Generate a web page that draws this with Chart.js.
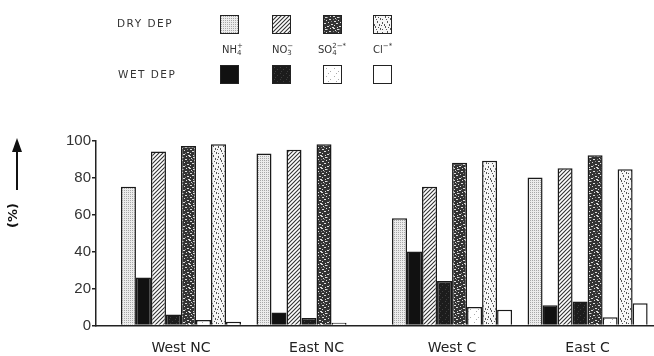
<!DOCTYPE html>
<html>
<head>
<meta charset="utf-8">
<script src="https://cdn.jsdelivr.net/npm/chart.js@4/dist/chart.umd.min.js"></script>
<style>
  body { margin: 0; background: #fff; }
  #wrap { position: relative; width: 654px; height: 356px; }
  #legend { position: absolute; left: 0; top: 0; width: 654px; height: 100px; font-family: "DejaVu Sans", sans-serif; color: #333; }
  .rowlab { position: absolute; font-size: 10.5px; letter-spacing: 1.5px; }
  .box { position: absolute; width: 17px; height: 17px; border: 1.5px solid #222; }
  .ion { position: absolute; font-size: 10px; top: 43px; }
  .ion .st { display: inline-block; vertical-align: middle; line-height: 7px; font-size: 7px; text-align: left; }
  #ytitle { position: absolute; left: 8px; top: 200px; width: 18px; height: 34px; }
  #ytitle span { position: absolute; left: -8px; top: 8px; transform: rotate(-90deg); font: bold 13px "DejaVu Sans", sans-serif; color: #111; }
  #arrow { position: absolute; left: 16px; top: 150px; width: 2px; height: 40px; background: #111; }
  #arrowhead { position: absolute; left: 12px; top: 138px; width: 0; height: 0; border-left: 5px solid transparent; border-right: 5px solid transparent; border-bottom: 14px solid #111; }
</style>
</head>
<body>
<div id="wrap">
  <canvas id="chart"></canvas>
  <div id="legend">
    <div class="rowlab" style="left:117px; top:17px;">DRY DEP</div>
    <div class="rowlab" style="left:118px; top:68px;">WET DEP</div>
    <div class="ion" style="left:222px;">NH<span class="st">+<br>4</span></div>
    <div class="ion" style="left:272px;">NO<span class="st">&minus;<br>3</span></div>
    <div class="ion" style="left:318px;">SO<span class="st">2&minus;*<br>4</span></div>
    <div class="ion" style="left:373px;">Cl<span class="st">&minus;*<br>&nbsp;</span></div>
  </div>
  <div id="arrowhead"></div>
  <div id="arrow"></div>
  <div id="ytitle"><span>(%)</span></div>
</div>
<script>
// ion fractions, % of total deposition
const groups = ['West NC', 'East NC', 'West C', 'East C'];
const nh4Dry = [75, 93, 58, 80];
const nh4Wet = [26, 7, 40, 11];
const no3Dry = [94, 95, 75, 85];
const no3Wet = [6, 4, 24, 13];
const so4Dry = [97, 98, 88, 92];
const so4Wet = [3, 1.5, 10, 4.5];
const clDry = [98, null, 89, 84.5];
const clWet = [2, null, 8.5, 12];
const yTicks = [0, 20, 40, 60, 80, 100];

function makePattern(size, draw) {
    const c = document.createElement('canvas');
    c.width = size; c.height = size;
    const g = c.getContext('2d');
    draw(g, size);
    return c;
}

function dots(g, list, w, h) {
    list.forEach(p => g.fillRect(p[0], p[1], w || 1, h || 1));
}

// little tiles that stand in for the printed screen tones
const tiles = {
    nh4Dry: makePattern(2, (g) => {
        g.fillStyle = '#ececec'; g.fillRect(0, 0, 2, 2);
        g.fillStyle = '#a8a8a8'; g.fillRect(0, 0, 1, 1);
    }),
    no3Dry: makePattern(4, (g) => {
        g.fillStyle = '#fff'; g.fillRect(0, 0, 4, 4);
        g.strokeStyle = '#333'; g.lineWidth = 1.1;
        g.beginPath();
        g.moveTo(-1, 5); g.lineTo(5, -1);
        g.moveTo(-1, 1); g.lineTo(1, -1);
        g.moveTo(3, 5); g.lineTo(5, 3);
        g.stroke();
    }),
    so4Dry: makePattern(12, (g) => {
        g.fillStyle = '#333'; g.fillRect(0, 0, 12, 12);
        g.fillStyle = '#ddd';
        dots(g, [[1,1],[9,0],[5,3],[0,7],[7,8],[3,10],[10,5],[8,11]], 2, 1);
        dots(g, [[4,6],[2,4],[11,2],[6,0],[1,11],[10,9]]);
        g.fillStyle = '#888';
        dots(g, [[3,1],[7,5],[5,9],[0,3],[9,3]]);
    }),
    clDry: makePattern(10, (g) => {
        g.fillStyle = '#f6f6f6'; g.fillRect(0, 0, 10, 10);
        g.fillStyle = '#555';
        dots(g, [[1,0],[6,2],[3,5],[8,6],[0,8],[5,8]], 1, 2);
        dots(g, [[4,1],[8,3],[2,3],[7,9]]);
    }),
    no3Wet: makePattern(6, (g) => {
        g.fillStyle = '#1c1c1c'; g.fillRect(0, 0, 6, 6);
        g.fillStyle = '#3c3c3c'; dots(g, [[1,1],[4,3],[2,5]]);
    }),
    so4Wet: makePattern(8, (g) => {
        g.fillStyle = '#fff'; g.fillRect(0, 0, 8, 8);
        g.fillStyle = '#aaa'; dots(g, [[2,2],[6,5],[4,7]]);
    })
};

const ctx = document.getElementById('chart').getContext('2d');
const fills = {
    nh4Dry: ctx.createPattern(tiles.nh4Dry, 'repeat'),
    nh4Wet: '#111',
    no3Dry: ctx.createPattern(tiles.no3Dry, 'repeat'),
    no3Wet: ctx.createPattern(tiles.no3Wet, 'repeat'),
    so4Dry: ctx.createPattern(tiles.so4Dry, 'repeat'),
    so4Wet: ctx.createPattern(tiles.so4Wet, 'repeat'),
    clDry: ctx.createPattern(tiles.clDry, 'repeat'),
    clWet: '#fff'
};

// legend swatches: same tiles
const legendBoxes = [
    ['nh4Dry', 220, 15], ['no3Dry', 272, 15], ['so4Dry', 323, 15], ['clDry', 373, 15],
    ['nh4Wet', 220, 65], ['no3Wet', 272, 65], ['so4Wet', 323, 65], ['clWet', 373, 65]
];
const legendEl = document.getElementById('legend');
legendBoxes.forEach(b => {
    const d = document.createElement('div');
    d.className = 'box';
    d.style.left = b[1] + 'px';
    d.style.top = b[2] + 'px';
    const t = tiles[b[0]];
    if (t) d.style.background = 'url(' + t.toDataURL() + ')';
    else d.style.background = fills[b[0]];
    legendEl.appendChild(d);
});

function series(arr) {
    return arr.map((v, i) => ({ x: i, y: v }));
}

function ds(label, arr, key) {
    return {
        label: label,
        data: series(arr),
        backgroundColor: fills[key],
        borderColor: '#1a1a1a',
        borderWidth: 1.5,
        borderSkipped: 'bottom'
    };
}

new Chart(ctx, {
    type: 'bar',
    data: {
        datasets: [
            ds('NH4+ dry', nh4Dry, 'nh4Dry'),
            ds('NH4+ wet', nh4Wet, 'nh4Wet'),
            ds('NO3- dry', no3Dry, 'no3Dry'),
            ds('NO3- wet', no3Wet, 'no3Wet'),
            ds('SO4 2- dry', so4Dry, 'so4Dry'),
            ds('SO4 2- wet', so4Wet, 'so4Wet'),
            ds('Cl- dry', clDry, 'clDry'),
            ds('Cl- wet', clWet, 'clWet')
        ]
    },
    options: {
        responsive: true,
        maintainAspectRatio: false,
        animation: false,
        categoryPercentage: 0.886,
        barPercentage: 1,
        layout: { padding: { top: 140.5, left: 0, right: 0, bottom: 0 } },
        plugins: { legend: { display: false }, tooltip: { enabled: false } },
        scales: {
            x: {
                type: 'linear',
                offset: false,
                min: -0.627,
                max: 3.49,
                afterBuildTicks: (s) => { s.ticks = groups.map((g, i) => ({ value: i })); },
                afterFit: (s) => { s.height = 30.5; },
                grid: { display: true, drawOnChartArea: false, drawTicks: false, offset: false },
                border: { display: true, color: '#222', width: 1.5 },
                ticks: {
                    padding: 14,
                    color: '#222',
                    font: { family: 'DejaVu Sans', size: 14 },
                    callback: (v) => groups[v]
                }
            },
            y: {
                min: 0,
                max: 100,
                afterBuildTicks: (s) => { s.ticks = yTicks.map(v => ({ value: v })); },
                afterFit: (s) => { s.width = 96; },
                grid: { drawOnChartArea: false, drawTicks: true, tickLength: 4, color: '#222', lineWidth: 1.5 },
                border: { display: true, color: '#222', width: 1.5 },
                ticks: {
                    padding: 1,
                    color: '#333',
                    font: { family: 'Liberation Sans', size: 15 }
                }
            }
        }
    }
});
</script>
</body>
</html>
